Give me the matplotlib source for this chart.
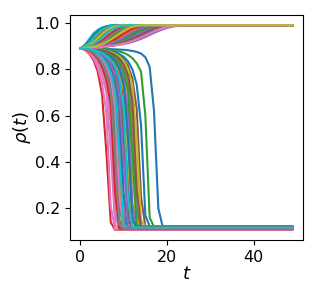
import numpy as np
import matplotlib
matplotlib.use("Agg")
import matplotlib.pyplot as plt

# time steps and common starting value
t = np.arange(50)
rho_start = 0.89

# runs that climb to ~0.99 (values from t=1 until they settle)
rise_runs = [
    [0.891, 0.892, 0.893, 0.894, 0.896, 0.898, 0.9, 0.903, 0.906, 0.909, 0.913, 0.918, 0.924, 0.931, 0.939, 0.948, 0.957, 0.965, 0.972, 0.978, 0.983, 0.986, 0.988, 0.99],
    [0.891, 0.892, 0.893, 0.895, 0.897, 0.9, 0.904, 0.909, 0.915, 0.922, 0.93, 0.938, 0.947, 0.956, 0.965, 0.973, 0.98, 0.985, 0.988, 0.99],
    [0.905, 0.93, 0.955, 0.97, 0.98, 0.986, 0.989, 0.99],
    [0.891, 0.892, 0.893, 0.894, 0.896, 0.899, 0.902, 0.905, 0.909, 0.914, 0.92, 0.927, 0.935, 0.943, 0.952, 0.961, 0.969, 0.976, 0.982, 0.986, 0.989, 0.99],
    [0.894, 0.9, 0.908, 0.92, 0.934, 0.95, 0.964, 0.975, 0.983, 0.987, 0.99],
    [0.903, 0.926, 0.951, 0.968, 0.979, 0.985, 0.989, 0.99],
    [0.902, 0.922, 0.947, 0.965, 0.977, 0.984, 0.988, 0.99],
    [0.897, 0.907, 0.923, 0.942, 0.959, 0.972, 0.981, 0.986, 0.989, 0.99],
    [0.9, 0.916, 0.938, 0.958, 0.972, 0.981, 0.986, 0.989, 0.99],
    [0.898, 0.911, 0.93, 0.95, 0.966, 0.977, 0.984, 0.988, 0.99],
    [0.891, 0.892, 0.893, 0.895, 0.897, 0.9, 0.903, 0.907, 0.913, 0.919, 0.927, 0.935, 0.944, 0.953, 0.962, 0.97, 0.977, 0.983, 0.987, 0.99],
    [0.895, 0.902, 0.913, 0.928, 0.945, 0.96, 0.972, 0.981, 0.986, 0.989, 0.99],
    [0.894, 0.899, 0.906, 0.917, 0.931, 0.946, 0.961, 0.972, 0.981, 0.986, 0.989, 0.99],
    [0.899, 0.913, 0.934, 0.954, 0.969, 0.979, 0.985, 0.989, 0.99],
    [0.892, 0.895, 0.899, 0.906, 0.915, 0.927, 0.941, 0.955, 0.967, 0.977, 0.984, 0.988, 0.99],
    [0.891, 0.892, 0.894, 0.896, 0.898, 0.901, 0.906, 0.911, 0.918, 0.925, 0.934, 0.943, 0.952, 0.961, 0.97, 0.977, 0.983, 0.987, 0.99],
    [0.892, 0.895, 0.898, 0.904, 0.913, 0.924, 0.937, 0.951, 0.963, 0.974, 0.982, 0.987, 0.99],
    [0.891, 0.893, 0.896, 0.9, 0.906, 0.914, 0.924, 0.936, 0.949, 0.961, 0.972, 0.98, 0.985, 0.988, 0.99],
    [0.893, 0.896, 0.901, 0.909, 0.919, 0.932, 0.947, 0.961, 0.972, 0.981, 0.986, 0.989, 0.99],
    [0.892, 0.894, 0.898, 0.903, 0.911, 0.921, 0.933, 0.946, 0.959, 0.971, 0.98, 0.986, 0.989, 0.99],
    [0.893, 0.897, 0.903, 0.912, 0.924, 0.939, 0.954, 0.967, 0.977, 0.984, 0.988, 0.99],
    [0.892, 0.895, 0.9, 0.907, 0.917, 0.929, 0.944, 0.958, 0.97, 0.979, 0.985, 0.988, 0.99],
    [0.891, 0.892, 0.894, 0.897, 0.9, 0.904, 0.909, 0.916, 0.924, 0.933, 0.943, 0.953, 0.963, 0.972, 0.979, 0.984, 0.988, 0.99],
    [0.891, 0.893, 0.895, 0.898, 0.902, 0.908, 0.915, 0.924, 0.934, 0.945, 0.956, 0.966, 0.975, 0.982, 0.986, 0.989, 0.99],
    [0.891, 0.892, 0.894, 0.896, 0.899, 0.903, 0.908, 0.914, 0.921, 0.929, 0.938, 0.948, 0.958, 0.967, 0.975, 0.982, 0.986, 0.989, 0.99],
    [0.891, 0.893, 0.896, 0.899, 0.904, 0.911, 0.92, 0.93, 0.942, 0.953, 0.964, 0.974, 0.981, 0.986, 0.989, 0.99],
    [0.891, 0.892, 0.893, 0.895, 0.897, 0.899, 0.902, 0.906, 0.911, 0.917, 0.924, 0.932, 0.94, 0.949, 0.958, 0.967, 0.975, 0.981, 0.985, 0.988, 0.99],
    [0.896, 0.904, 0.917, 0.934, 0.952, 0.967, 0.977, 0.984, 0.988, 0.99],
    [0.894, 0.9, 0.909, 0.922, 0.937, 0.953, 0.967, 0.977, 0.984, 0.988, 0.99],
    [0.891, 0.893, 0.895, 0.897, 0.901, 0.906, 0.912, 0.92, 0.929, 0.939, 0.949, 0.96, 0.969, 0.977, 0.983, 0.987, 0.99],
    [0.891, 0.892, 0.893, 0.894, 0.896, 0.898, 0.901, 0.904, 0.907, 0.911, 0.916, 0.922, 0.929, 0.937, 0.945, 0.954, 0.963, 0.971, 0.977, 0.982, 0.986, 0.989, 0.99],
    [0.892, 0.894, 0.897, 0.902, 0.908, 0.917, 0.928, 0.941, 0.954, 0.966, 0.976, 0.983, 0.987, 0.99],
]

# runs that collapse to ~0.11-0.12 (values from t=1 until they settle)
fall_runs = [
    [0.889, 0.889, 0.889, 0.888, 0.888, 0.887, 0.887, 0.886, 0.885, 0.884, 0.882, 0.879, 0.875, 0.868, 0.852, 0.81, 0.62, 0.2, 0.122],
    [0.888, 0.884, 0.877, 0.865, 0.847, 0.818, 0.772, 0.67, 0.33, 0.12, 0.115],
    [0.889, 0.889, 0.888, 0.888, 0.887, 0.886, 0.884, 0.881, 0.877, 0.871, 0.862, 0.848, 0.826, 0.79, 0.6, 0.16, 0.121],
    [0.884, 0.868, 0.84, 0.79, 0.69, 0.44, 0.14, 0.108],
    [0.889, 0.889, 0.888, 0.886, 0.884, 0.881, 0.876, 0.869, 0.859, 0.843, 0.815, 0.76, 0.63, 0.25, 0.122],
    [0.885, 0.872, 0.848, 0.808, 0.74, 0.61, 0.21, 0.11],
    [0.889, 0.888, 0.887, 0.884, 0.879, 0.872, 0.862, 0.847, 0.823, 0.78, 0.69, 0.36, 0.125, 0.12],
    [0.889, 0.889, 0.888, 0.887, 0.885, 0.883, 0.879, 0.874, 0.866, 0.854, 0.834, 0.8, 0.735, 0.56, 0.17, 0.122],
    [0.889, 0.888, 0.885, 0.88, 0.873, 0.863, 0.848, 0.824, 0.782, 0.69, 0.37, 0.12, 0.117],
    [0.889, 0.887, 0.883, 0.877, 0.868, 0.855, 0.834, 0.8, 0.74, 0.58, 0.19, 0.117],
    [0.889, 0.885, 0.879, 0.869, 0.854, 0.831, 0.794, 0.725, 0.5, 0.15, 0.114],
    [0.889, 0.887, 0.883, 0.876, 0.866, 0.851, 0.828, 0.79, 0.72, 0.5, 0.15, 0.117],
    [0.886, 0.876, 0.858, 0.826, 0.775, 0.7, 0.45, 0.13, 0.11],
    [0.889, 0.888, 0.887, 0.886, 0.883, 0.879, 0.873, 0.863, 0.849, 0.826, 0.785, 0.69, 0.36, 0.125, 0.121],
    [0.889, 0.886, 0.88, 0.871, 0.857, 0.836, 0.802, 0.74, 0.56, 0.18, 0.115],
    [0.889, 0.888, 0.887, 0.886, 0.884, 0.88, 0.875, 0.867, 0.855, 0.836, 0.8, 0.73, 0.5, 0.15, 0.122],
    [0.889, 0.886, 0.881, 0.873, 0.861, 0.842, 0.812, 0.76, 0.64, 0.26, 0.116],
    [0.888, 0.883, 0.873, 0.857, 0.832, 0.792, 0.73, 0.5, 0.15, 0.113],
    [0.889, 0.887, 0.884, 0.879, 0.872, 0.861, 0.844, 0.817, 0.77, 0.66, 0.29, 0.118],
    [0.889, 0.888, 0.886, 0.882, 0.877, 0.869, 0.857, 0.838, 0.807, 0.745, 0.55, 0.17, 0.119],
    [0.889, 0.888, 0.887, 0.885, 0.881, 0.875, 0.867, 0.854, 0.834, 0.8, 0.735, 0.5, 0.15, 0.121],
    [0.887, 0.879, 0.864, 0.838, 0.798, 0.735, 0.6, 0.2, 0.112],
    [0.889, 0.888, 0.887, 0.885, 0.881, 0.876, 0.868, 0.856, 0.838, 0.807, 0.75, 0.54, 0.17, 0.12],
    [0.889, 0.886, 0.882, 0.875, 0.864, 0.847, 0.82, 0.775, 0.69, 0.4, 0.125, 0.116],
    [0.888, 0.883, 0.875, 0.861, 0.839, 0.805, 0.75, 0.6, 0.21, 0.114],
    [0.888, 0.884, 0.876, 0.863, 0.843, 0.811, 0.76, 0.63, 0.24, 0.115],
    [0.889, 0.888, 0.885, 0.881, 0.874, 0.865, 0.851, 0.829, 0.79, 0.71, 0.42, 0.13, 0.118],
    [0.888, 0.885, 0.878, 0.867, 0.851, 0.825, 0.783, 0.7, 0.42, 0.13, 0.115],
    [0.889, 0.888, 0.886, 0.883, 0.878, 0.87, 0.859, 0.842, 0.814, 0.76, 0.62, 0.22, 0.119],
    [0.886, 0.877, 0.861, 0.833, 0.79, 0.725, 0.56, 0.17, 0.111],
    [0.889, 0.888, 0.887, 0.885, 0.882, 0.877, 0.87, 0.859, 0.842, 0.814, 0.76, 0.6, 0.2, 0.121],
    [0.889, 0.888, 0.886, 0.882, 0.876, 0.867, 0.854, 0.834, 0.8, 0.73, 0.5, 0.15, 0.118],
    [0.887, 0.881, 0.869, 0.849, 0.818, 0.77, 0.69, 0.38, 0.125, 0.112],
    [0.889, 0.888, 0.887, 0.884, 0.88, 0.874, 0.865, 0.851, 0.829, 0.79, 0.71, 0.44, 0.13, 0.12],
    [0.887, 0.88, 0.867, 0.845, 0.81, 0.755, 0.65, 0.27, 0.113],
    [0.889, 0.888, 0.887, 0.885, 0.882, 0.878, 0.871, 0.861, 0.846, 0.82, 0.775, 0.66, 0.28, 0.122],
    [0.888, 0.882, 0.871, 0.853, 0.825, 0.78, 0.71, 0.43, 0.13, 0.113],
    [0.889, 0.887, 0.884, 0.878, 0.87, 0.858, 0.839, 0.81, 0.755, 0.63, 0.24, 0.118],
]

# which kind of run is drawn next (U = rise, F = fall)
draw_order = ("FFFFUFFUFU" "FFFFUFFUFU" "UUUUUUUFFU" "FUFFUUUFFF"
              "UFUUFFFUFF" "UUUUFUFFUU" "FFFFUFUFUF")


def full_run(run):
    vals = [rho_start] + list(run)
    return vals + [run[-1]] * (len(t) - len(vals))


fig = plt.figure(figsize=(3.19, 3.0), dpi=100)
ax = fig.add_axes([0.219, 0.2, 0.731, 0.75])

rises = iter(rise_runs)
falls = iter(fall_runs)
for kind in draw_order:
    run = next(rises) if kind == "U" else next(falls)
    ax.plot(t, full_run(run), lw=1.5)

ax.set_xticks([0, 20, 40])
ax.set_yticks([0.2, 0.4, 0.6, 0.8, 1.0])
ax.tick_params(labelsize=11.5)
ax.set_xlabel(r"$t$", fontsize=13, labelpad=0)
ax.set_ylabel(r"$\rho(t)$", fontsize=13, labelpad=1)

fig.savefig("out.png")
